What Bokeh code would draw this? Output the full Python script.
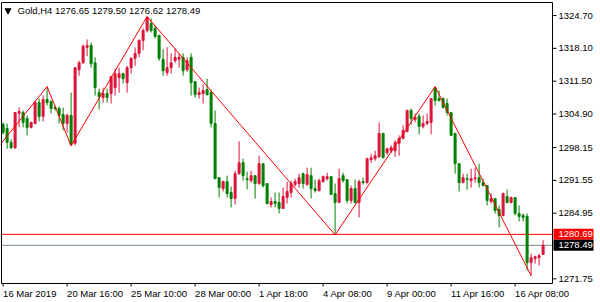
from bokeh.plotting import figure
from bokeh.models import Range1d
from bokeh.embed import file_html
from bokeh.resources import INLINE

symbol = "Gold,H4"

opens = [1302.8, 1302.0, 1299.2, 1298.1, 1305.0, 1305.2, 1304.0, 1302.2, 1303.0, 1307.2,
         1304.4, 1307.8, 1307.4, 1306.2, 1306.0, 1304.8, 1303.0, 1304.6, 1299.0, 1313.8,
         1315.2, 1318.3, 1318.7, 1315.2, 1309.2, 1308.2, 1309.0, 1309.0, 1310.2, 1312.2,
         1313.0, 1311.2, 1314.2, 1316.1, 1317.1, 1319.7, 1321.7, 1323.1, 1322.1, 1320.7,
         1315.9, 1313.2, 1314.2, 1315.6, 1315.9, 1316.3, 1313.8, 1316.3, 1311.4, 1308.8,
         1309.0, 1309.8, 1309.2, 1303.0, 1292.1, 1289.9, 1291.3, 1289.1, 1287.9, 1292.9,
         1295.1, 1291.9, 1291.5, 1292.5, 1290.9, 1294.9, 1290.9, 1286.7, 1287.3, 1287.1,
         1285.9, 1288.1, 1289.1, 1290.7, 1290.9, 1292.9, 1290.7, 1292.5, 1289.9, 1289.5,
         1291.3, 1291.9, 1292.3, 1288.9, 1287.1, 1292.5, 1291.7, 1287.5, 1289.9, 1287.1,
         1291.3, 1291.1, 1295.7, 1295.9, 1296.3, 1301.0, 1297.1, 1297.5, 1297.5, 1299.0,
         1300.0, 1301.4, 1305.6, 1303.8, 1304.4, 1302.4, 1303.0, 1303.2, 1310.2, 1308.0,
         1308.0, 1307.0, 1305.2, 1301.0, 1294.9, 1291.1, 1291.9, 1291.5, 1291.9, 1292.1,
         1291.1, 1290.5, 1287.3, 1287.9, 1285.7, 1284.5, 1288.3, 1287.1, 1288.1, 1284.9,
         1284.5, 1284.3, 1275.0, 1275.8, 1276.0, 1276.65]

highs = [1303.2, 1303.0, 1299.8, 1305.2, 1306.2, 1305.6, 1304.6, 1303.4, 1307.6, 1308.0,
         1308.6, 1310.4, 1307.6, 1306.6, 1306.4, 1306.2, 1305.0, 1309.2, 1314.3, 1315.6,
         1318.9, 1319.9, 1319.3, 1316.3, 1310.0, 1310.2, 1310.0, 1312.6, 1314.0, 1314.2,
         1313.2, 1314.6, 1316.3, 1318.3, 1319.9, 1322.1, 1324.5, 1324.1, 1322.7, 1320.8,
         1317.9, 1318.3, 1317.1, 1318.1, 1317.1, 1317.1, 1316.3, 1317.1, 1311.5, 1310.2,
         1310.8, 1312.0, 1309.8, 1305.6, 1292.2, 1291.5, 1292.5, 1290.3, 1293.5, 1299.4,
         1295.9, 1293.3, 1293.5, 1292.6, 1296.5, 1295.0, 1291.0, 1288.1, 1289.1, 1289.1,
         1290.1, 1291.3, 1291.5, 1291.9, 1292.9, 1293.1, 1294.1, 1294.1, 1291.7, 1291.9,
         1292.5, 1293.1, 1292.4, 1290.9, 1293.9, 1293.1, 1291.8, 1290.5, 1291.7, 1291.7,
         1292.1, 1296.1, 1296.9, 1297.5, 1303.2, 1301.1, 1298.1, 1298.6, 1299.6, 1300.6,
         1302.6, 1305.8, 1306.0, 1305.0, 1305.0, 1304.6, 1305.0, 1308.1, 1310.4, 1309.6,
         1308.2, 1308.0, 1305.3, 1301.1, 1295.0, 1292.9, 1292.9, 1293.9, 1294.1, 1294.9,
         1291.9, 1290.6, 1288.9, 1288.0, 1286.5, 1289.1, 1289.7, 1288.3, 1288.2, 1286.5,
         1284.9, 1284.9, 1276.8, 1276.4, 1276.8, 1279.50]

lows = [1300.8, 1297.9, 1297.9, 1297.9, 1302.2, 1302.2, 1300.6, 1302.0, 1302.8, 1303.4,
        1303.4, 1306.6, 1305.0, 1305.6, 1303.0, 1301.6, 1301.2, 1298.5, 1298.6, 1312.6,
        1315.0, 1316.5, 1314.2, 1308.6, 1305.8, 1307.2, 1307.2, 1307.0, 1308.6, 1309.2,
        1311.0, 1309.2, 1313.0, 1314.6, 1316.3, 1317.7, 1321.3, 1321.3, 1320.1, 1315.6,
        1312.6, 1312.6, 1313.0, 1315.2, 1314.2, 1312.6, 1313.4, 1308.6, 1308.2, 1308.0,
        1307.0, 1308.6, 1302.2, 1291.8, 1288.1, 1289.3, 1288.1, 1286.1, 1286.7, 1292.7,
        1291.5, 1289.7, 1291.1, 1287.9, 1290.7, 1290.1, 1286.7, 1286.1, 1286.1, 1284.9,
        1285.8, 1286.9, 1288.1, 1290.3, 1290.1, 1289.9, 1290.5, 1287.9, 1289.1, 1289.3,
        1291.1, 1291.5, 1288.6, 1280.6, 1287.0, 1291.1, 1286.9, 1286.9, 1286.9, 1284.1,
        1290.7, 1290.9, 1295.1, 1295.5, 1296.1, 1296.0, 1296.7, 1297.1, 1296.3, 1296.5,
        1299.8, 1301.2, 1302.8, 1303.2, 1300.8, 1302.0, 1302.6, 1300.8, 1306.6, 1307.4,
        1306.0, 1304.6, 1300.5, 1292.9, 1289.3, 1291.0, 1289.7, 1290.1, 1291.1, 1290.1,
        1290.3, 1286.5, 1286.9, 1284.9, 1282.1, 1284.3, 1286.9, 1286.9, 1284.5, 1283.3,
        1283.3, 1273.4, 1272.4, 1274.8, 1274.4, 1276.62]

closes = [1301.2, 1299.2, 1298.1, 1305.2, 1305.4, 1303.2, 1302.2, 1303.2, 1307.2, 1304.4,
          1307.8, 1307.2, 1306.0, 1306.0, 1304.6, 1303.0, 1304.6, 1298.8, 1314.2, 1315.2,
          1318.5, 1318.7, 1315.0, 1310.2, 1308.4, 1309.0, 1308.2, 1312.4, 1313.0, 1313.0,
          1312.0, 1314.2, 1316.1, 1317.1, 1319.7, 1321.7, 1324.3, 1321.7, 1320.5, 1316.1,
          1313.6, 1314.2, 1315.2, 1316.3, 1316.3, 1313.6, 1315.6, 1311.2, 1308.8, 1309.2,
          1309.6, 1308.8, 1303.0, 1291.9, 1290.1, 1291.3, 1288.9, 1287.9, 1292.9, 1295.1,
          1292.5, 1291.7, 1292.5, 1290.9, 1294.9, 1290.5, 1286.9, 1287.3, 1286.9, 1285.9,
          1288.3, 1289.3, 1290.9, 1291.3, 1292.1, 1290.9, 1292.7, 1289.9, 1289.5, 1291.5,
          1292.3, 1292.3, 1288.7, 1287.1, 1291.9, 1291.5, 1287.5, 1289.9, 1287.1, 1291.3,
          1291.1, 1295.9, 1296.1, 1296.5, 1301.0, 1296.1, 1297.9, 1298.1, 1299.2, 1300.0,
          1301.6, 1305.6, 1304.0, 1304.2, 1302.4, 1303.0, 1303.4, 1308.0, 1307.6, 1307.6,
          1306.2, 1305.2, 1300.6, 1294.9, 1291.1, 1292.1, 1291.7, 1291.9, 1292.1, 1291.1,
          1290.5, 1287.5, 1287.9, 1285.5, 1284.5, 1288.9, 1287.1, 1288.1, 1284.9, 1284.3,
          1284.1, 1275.0, 1276.0, 1276.2, 1276.4, 1278.49]

time_labels = ["16 Mar 2019", "20 Mar 16:00", "25 Mar 10:00", "28 Mar 00:00", "1 Apr 18:00",
               "4 Apr 08:00", "9 Apr 00:00", "11 Apr 16:00", "16 Apr 08:00"]
time_label_bars = [0, 16, 32, 48, 64, 80, 96, 112, 128]

price_ticks = [1271.75, 1284.95, 1291.55, 1298.15, 1304.90, 1311.50, 1318.10, 1324.70]

zz_bars = [-2, 11, 17, 36, 83, 108, 132]
zz_prices = [1297.5, 1310.4, 1298.5, 1324.5, 1280.6, 1310.4, 1272.4]

ask_price = 1280.69
bid_price = 1278.49

# visible chart window (bars / price)
CHART_LEFT, CHART_RIGHT = -0.4, 137.35
CHART_BOTTOM, CHART_TOP = 1270.81, 1327.32
W, H = 600, 302
PXX = 0.25      # bars per pixel
PXY = 0.2011    # price per pixel

UP = "#DC143C"
DOWN = "#008000"
FONT = "Liberation Sans"
FS = "9.5px"

n = len(opens)
xs = list(range(n))
colors = [UP if c > o else DOWN for o, c in zip(opens, closes)]
tops = [max(o, c) for o, c in zip(opens, closes)]
bots = [min(o, c) for o, c in zip(opens, closes)]

x0 = CHART_LEFT - 1 * PXX
y1 = CHART_TOP + 2 * PXY
p = figure(width=W, height=H,
           x_range=Range1d(x0, x0 + W * PXX), y_range=Range1d(y1 - H * PXY, y1),
           output_backend="svg", toolbar_location=None,
           x_axis_location=None, y_axis_location=None,
           min_border=0, min_border_left=0, min_border_right=0,
           min_border_top=0, min_border_bottom=0)
p.grid.visible = False
p.outline_line_color = None
p.background_fill_color = "white"
p.border_fill_color = "white"

# price lines
p.segment(x0=[CHART_LEFT, CHART_LEFT], x1=[CHART_RIGHT, CHART_RIGHT],
          y0=[ask_price, bid_price], y1=[ask_price, bid_price],
          line_color=["#FF0000", "#778899"], line_width=1)

# candles
p.segment(x0=xs, y0=highs, x1=xs, y1=lows, line_color=colors, line_width=1)
p.vbar(x=xs, width=0.5, top=tops, bottom=bots, fill_color=colors, line_color=colors, line_width=1)

# zigzag
p.line(zz_bars, zz_prices, line_color="#FF0000", line_width=1)

# chart window frame
p.quad(left=[CHART_LEFT], right=[CHART_RIGHT], bottom=[CHART_BOTTOM], top=[CHART_TOP],
       fill_color=None, line_color="black", line_width=1)

# right price scale
nt = len(price_ticks)
p.segment(x0=[CHART_RIGHT] * nt, x1=[CHART_RIGHT + 4 * PXX] * nt, y0=price_ticks, y1=price_ticks,
          line_color="black", line_width=1)
p.text(x=[CHART_RIGHT + 6 * PXX] * nt, y=price_ticks, text=[f"{t:.2f}" for t in price_ticks],
       text_font={"value": FONT}, text_font_size={"value": FS}, text_color="black",
       text_align="left", text_baseline="middle")

# bottom time scale
nb = len(time_label_bars)
p.segment(x0=time_label_bars, x1=time_label_bars, y0=[CHART_BOTTOM] * nb,
          y1=[CHART_BOTTOM - 3 * PXY] * nb, line_color="black", line_width=1)
p.text(x=time_label_bars, y=[CHART_BOTTOM - 4 * PXY] * nb, text=time_labels,
       text_font={"value": FONT}, text_font_size={"value": FS}, text_color="black",
       text_align="left", text_baseline="top")

# price boxes
box_prices = [ask_price, bid_price]
p.rect(x=[CHART_RIGHT + 21 * PXX] * 2, y=box_prices, width=40 * PXX, height=11 * PXY,
       fill_color=["#FF0000", "black"], line_color=None)
p.text(x=[CHART_RIGHT + 6 * PXX] * 2, y=box_prices, text=[f"{v:.2f}" for v in box_prices],
       text_font={"value": FONT}, text_font_size={"value": FS}, text_color="white",
       text_align="left", text_baseline="middle")

# header
header = f"{symbol}  {opens[-1]:.2f} {highs[-1]:.2f} {lows[-1]:.2f} {closes[-1]:.2f}"
p.text(x=[CHART_LEFT + 16 * PXX], y=[CHART_TOP - 8 * PXY], text=[header],
       text_font={"value": FONT}, text_font_size={"value": FS}, text_color="black",
       text_align="left", text_baseline="middle")
p.scatter(x=[CHART_LEFT + 6.5 * PXX], y=[CHART_TOP - 8 * PXY], marker="inverted_triangle",
          size=6, fill_color="black", line_color="black")

open("out.html", "w").write(file_html(p, INLINE))
